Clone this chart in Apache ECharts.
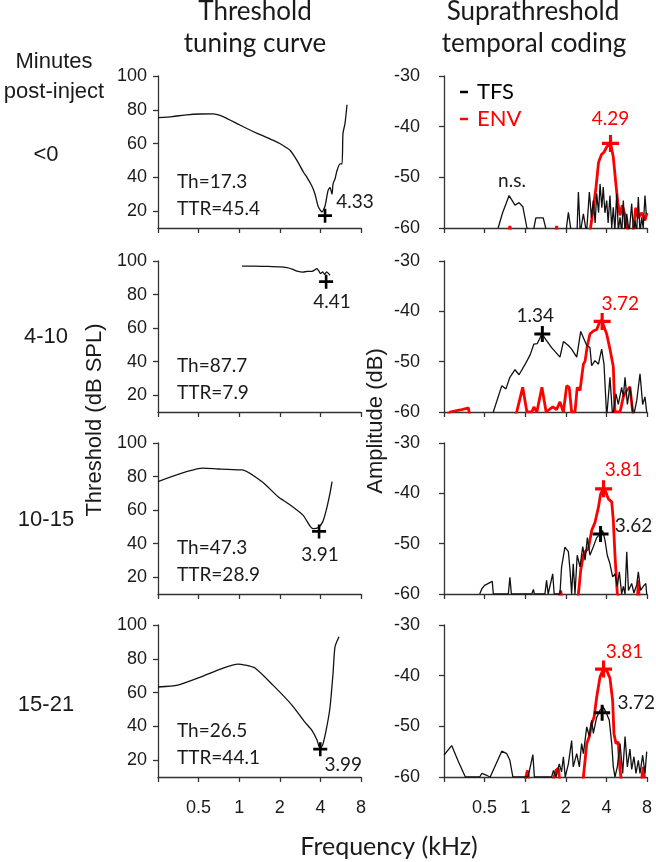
<!DOCTYPE html>
<html><head><meta charset="utf-8">
<script src="https://cdn.jsdelivr.net/npm/echarts@6/dist/echarts.min.js"></script>
<style>html,body{margin:0;padding:0;background:#fff}#c{width:656px;height:862px}</style>
</head><body><div id="c"></div><script>
// ---------- DATA ----------
const rowLabels = ['<0', '4-10', '10-15', '15-21'];
const freqTicks = [0.5, 1, 2, 4, 8];
const thrTicks = [20, 40, 60, 80, 100];
const ampTicks = [-60, -50, -40, -30];
const thValues = [17.3, 87.7, 47.3, 26.5];
const ttrValues = [45.4, 7.9, 28.9, 44.1];
const tcBestFreq = [4.33, 4.41, 3.91, 3.99];
const envPeakFreq = [4.29, 3.72, 3.81, 3.81];
const envPeakAmp = [-43.3, -42, -39.1, -38.7];
const tfsPeakFreq = [null, 1.34, 3.62, 3.72];
const tfsPeakAmp = [null, -44.5, -48.1, -47.3];

// threshold tuning curves [kHz, dB SPL]
const tc0 = [[0.25,75.3],[0.32,76],[0.41,77],[0.51,77.5],[0.64,77.6],[0.76,76],[1.01,71],[1.36,66],[1.78,62],[2.0,60],[2.38,56],[2.68,50],[3.0,43],[3.18,40],[3.45,35],[3.65,30],[3.84,23],[4.0,20.5],[4.11,19.5],[4.33,23],[4.55,32],[4.71,34],[4.88,30],[4.96,36],[5.13,39],[5.31,44],[5.59,48],[5.79,48],[5.88,66],[6.09,72],[6.3,83]];
const tc1 = [[1.05,97],[1.3,97],[1.6,96.8],[2.0,96.5],[2.26,96],[2.5,95],[2.68,94],[2.97,93.4],[3.2,93.8],[3.47,93.8],[3.65,94.8],[3.77,95.5],[3.9,94],[4.0,92.5],[4.16,93.5],[4.3,92],[4.45,93.5],[4.6,92.5],[4.71,91.5]];
const tc2 = [[0.25,77],[0.54,85],[0.7,84.5],[1.01,84],[1.05,84],[1.5,76.5],[1.94,68],[2.3,64],[2.97,57],[3.35,50.5],[3.54,49],[3.84,49.5],[4.16,53],[4.42,60],[4.71,70],[4.88,77]];
const tc3 = [[0.25,63.3],[0.35,64.4],[0.51,69],[0.76,74.5],[0.98,76.8],[1.1,76.3],[1.31,74.5],[1.78,64.4],[2.46,52.6],[3.07,42.5],[3.47,37.5],[3.77,32],[3.97,27],[4.16,29],[4.42,38],[4.71,51],[4.96,71],[5.13,87],[5.49,93]];

// suprathreshold temporal coding [kHz, dB]
const tfs0 = [[0.63,-60],[0.68,-57],[0.76,-53.6],[0.84,-55.5],[0.9,-55],[0.96,-55.8],[1.03,-60],[1.14,-61],[1.2,-58],[1.36,-58],[1.45,-61],[2.0,-61],[2.09,-56.9],[2.2,-61],[2.42,-61],[2.48,-52.9],[2.56,-61],[2.7,-57.2],[2.85,-61],[2.99,-52.9],[3.1,-58],[3.2,-54.6],[3.3,-59],[3.39,-53.2],[3.5,-57],[3.59,-51.3],[3.7,-56],[3.79,-51.9],[3.9,-57],[4.02,-54.6],[4.12,-59],[4.25,-53.6],[4.38,-60],[4.5,-55.9],[4.62,-60.5],[4.77,-53.2],[4.9,-60.5],[5.05,-57.9],[5.2,-61],[5.34,-54.6],[5.5,-61],[5.66,-57.2],[5.9,-61],[6.16,-55.2],[6.35,-61],[6.52,-58.5],[6.7,-61],[6.9,-53.9],[7.1,-61],[7.31,-57.9],[7.5,-60],[7.73,-53.6],[7.9,-57.2]];
const env0 = [[0.75,-61],[0.77,-59.6],[0.79,-61],[1.68,-61],[1.71,-59.6],[1.74,-61],[3.0,-61],[3.05,-60],[3.2,-56],[3.35,-52],[3.5,-47],[3.68,-45.5],[3.85,-45],[4.02,-44],[4.29,-43.3],[4.5,-46],[4.69,-51],[4.86,-55],[5.05,-57.5],[5.24,-55.5],[5.5,-57.5],[5.83,-61],[6.3,-61],[6.6,-56],[6.9,-58],[7.31,-57],[7.73,-58.5],[8,-57]];
const tfs1 = [[0.55,-61],[0.58,-60],[0.67,-54.8],[0.72,-55.4],[0.77,-53.1],[0.84,-51.6],[0.9,-52.6],[1.0,-50.5],[1.09,-48.6],[1.16,-46.5],[1.23,-46.4],[1.33,-44.5],[1.44,-45.8],[1.57,-47.2],[1.81,-49.1],[1.92,-46],[2.09,-46.8],[2.21,-47.5],[2.41,-49.1],[2.58,-44],[2.86,-46.8],[3.02,-47.2],[3.11,-50.8],[3.29,-49.8],[3.49,-50.5],[3.69,-47.5],[3.84,-50.5],[4.02,-61],[4.25,-53.1],[4.45,-61],[4.71,-56.4],[4.9,-58.5],[5.19,-55.1],[5.34,-57],[5.5,-53.1],[5.72,-58.5],[5.98,-55],[6.33,-61],[6.71,-57.8],[7.1,-52.4],[7.43,-58.5],[7.73,-57],[7.96,-60]];
const env1 = [[0.26,-61],[0.277,-60],[0.33,-59.6],[0.379,-59.2],[0.39,-61],[0.84,-61],[0.865,-60],[0.958,-55.1],[1.03,-60],[1.12,-60],[1.16,-59],[1.22,-60],[1.33,-55.1],[1.43,-60],[1.6,-59],[1.71,-59.5],[1.81,-58],[1.92,-60],[2.03,-54.8],[2.12,-55.1],[2.21,-60],[2.34,-60],[2.43,-55.1],[2.55,-55.7],[2.7,-50.5],[2.78,-49.9],[2.89,-46.8],[3.02,-44.5],[3.2,-43.9],[3.39,-43.6],[3.59,-41.9],[3.72,-42],[3.79,-42.2],[4.02,-44.5],[4.25,-47.5],[4.5,-51],[4.63,-60],[5.05,-60],[5.34,-57],[5.66,-55.7],[5.98,-55],[6.27,-60],[6.4,-62]];
const tfs2 = [[0.46,-60],[0.476,-59],[0.5,-58.3],[0.57,-57.5],[0.58,-60],[0.75,-60],[0.77,-56.7],[0.79,-60],[1.12,-60],[1.15,-59.1],[1.17,-60],[1.4,-60],[1.44,-57.3],[1.48,-60],[1.6,-56],[1.64,-60],[1.81,-60],[1.86,-54.7],[1.97,-50.7],[2.09,-51.6],[2.15,-55.3],[2.21,-60],[2.27,-54],[2.34,-60],[2.43,-52.3],[2.55,-54.6],[2.67,-50.6],[2.78,-53.3],[2.89,-48.8],[3.02,-52.3],[3.2,-50.6],[3.39,-48.8],[3.59,-48.1],[3.75,-47.4],[3.91,-49.4],[4.06,-52.3],[4.25,-54],[4.45,-56.6],[4.63,-56],[4.82,-58.5],[4.99,-55.6],[5.19,-60],[5.34,-58.5],[5.5,-60],[5.66,-51.6],[5.83,-59.3],[6.16,-57.9],[6.4,-59.8],[6.71,-58.2],[6.9,-55.6],[7.17,-59.3],[7.5,-58.5],[7.84,-57.9],[7.96,-60]];
const env2 = [[1.78,-61],[1.83,-59.3],[1.88,-61],[2.45,-61],[2.48,-60],[2.58,-55.3],[2.7,-52.3],[2.82,-51.4],[2.94,-51],[3.11,-47.4],[3.29,-45.8],[3.49,-42.8],[3.62,-40.2],[3.81,-38.9],[3.97,-39.8],[4.13,-41.1],[4.38,-41.7],[4.5,-45.3],[4.63,-52.3],[4.82,-60],[5.05,-61],[6.8,-61],[6.9,-57.3],[7.0,-61]];
const tfs3 = [[0.25,-55.7],[0.285,-53.8],[0.32,-57],[0.36,-60],[0.46,-60],[0.476,-59.3],[0.52,-59.7],[0.55,-60],[0.67,-54.9],[0.73,-55.4],[0.77,-56.7],[0.81,-60],[1.05,-60],[1.09,-58],[1.14,-55.6],[1.17,-60],[1.57,-60],[1.62,-58.7],[1.69,-60],[1.79,-57.4],[1.86,-59],[1.92,-56],[1.98,-60],[2.09,-57.4],[2.21,-52.8],[2.27,-58],[2.41,-55.4],[2.52,-58],[2.62,-53.4],[2.7,-55.4],[2.86,-50.1],[2.99,-52],[3.11,-48.8],[3.2,-51.4],[3.39,-48.2],[3.59,-46.8],[3.79,-46.2],[4.02,-47.5],[4.2,-48.8],[4.38,-53.4],[4.5,-58],[4.63,-60],[4.82,-58],[5.05,-53.4],[5.28,-59.3],[5.5,-52],[5.72,-58],[5.98,-54.5],[6.16,-58.5],[6.4,-56],[6.63,-59.3],[6.9,-56.7],[7.1,-59.3],[7.43,-55.7],[7.73,-59.3],[7.96,-55]];
const env3 = [[0.99,-61],[1.04,-58.7],[1.07,-61],[1.6,-61],[1.69,-58.7],[1.76,-58.3],[1.81,-61],[2.68,-61],[2.7,-60],[2.86,-53.4],[2.99,-52],[3.11,-49.5],[3.24,-48.2],[3.39,-44.2],[3.59,-40.2],[3.81,-38.6],[4.06,-39.2],[4.25,-40.5],[4.45,-44.9],[4.55,-51.4],[4.71,-53.4],[4.9,-53.1],[5.05,-58.7],[5.19,-61],[7.25,-61],[7.5,-58],[7.73,-61]];

const tuningCurves = [tc0, tc1, tc2, tc3];
const tfsCurves = [tfs0, tfs1, tfs2, tfs3];
const envCurves = [env0, env1, env2, env3];

// ---------- LAYOUT / STYLE ----------
const colLeft = [158, 444];
const plotW = 203;
const rowTops = [76, 261, 443, 625];
const rowH = [152, 151, 151, 152];
const axisColor = '#333';
const textColor = '#1a1a1a';
const RED = '#ff0000';
const ARIAL = '"Liberation Sans", Arial, sans-serif';
const CAL = 'Lato, "Open Sans", sans-serif';
const PLUS = 'path://M-1.3,-7 H1.3 V-1.3 H7 V1.3 H1.3 V7 H-1.3 V1.3 H-7 V-1.3 H-1.3 Z';
// label offsets (px) relative to marker centres
const tcLabelOff = [[30, -14], [6, 20], [1, 23], [23, 16]];
const envLabelOff = [[0, -25], [18, -18], [20, -19], [21, -17]];
const tfsLabelOff = [null, [-7, -18], [33, -8], [34, -10]];

const grids = [], xAxes = [], yAxes = [], series = [];
for (let r = 0; r < 4; r++) {
  for (let c = 0; c < 2; c++) {
    const idx = r * 2 + c;
    grids.push({ left: colLeft[c], top: rowTops[r], width: plotW, height: rowH[r] });
    xAxes.push({
      gridIndex: idx, type: 'log', logBase: 2, min: 0.25, max: 8,
      axisLine: { show: true, onZero: false, lineStyle: { color: axisColor, width: 1.3 } },
      axisTick: { show: true, length: 5, lineStyle: { color: axisColor, width: 1.3 } },
      axisLabel: {
        show: r === 3, margin: 22, fontSize: 18, fontFamily: ARIAL, color: textColor,
        formatter: v => (v < 0.4 ? '' : String(+v.toFixed(2)))
      },
      splitLine: { show: false }
    });
    if (c === 0) {
      yAxes.push({
        gridIndex: idx, type: 'value', min: 10, max: 100, interval: 10,
        axisLine: { show: true, onZero: false, lineStyle: { color: axisColor, width: 1.3 } },
        axisTick: { show: true, length: 5, customValues: thrTicks, lineStyle: { color: axisColor, width: 1.3 } },
        axisLabel: { customValues: thrTicks, margin: 11, fontSize: 18, fontFamily: ARIAL, color: textColor,
          formatter: v => (v % 20 === 0 ? String(v) : '') },
        splitLine: { show: false }
      });
    } else {
      yAxes.push({
        gridIndex: idx, type: 'value', min: -60, max: -30, interval: 10,
        axisLine: { show: true, onZero: false, lineStyle: { color: axisColor, width: 1.3 } },
        axisTick: { show: true, length: 5, lineStyle: { color: axisColor, width: 1.3 } },
        axisLabel: { margin: 24, fontSize: 18, fontFamily: ARIAL, color: textColor },
        splitLine: { show: false }
      });
    }
  }
  const L = r * 2, R = r * 2 + 1;
  // tuning curve
  series.push({ type: 'line', xAxisIndex: L, yAxisIndex: L, data: tuningCurves[r], symbol: 'none',
    smooth: 0.2, color: '#111', lineStyle: { color: '#111', width: 1.3 }, silent: true, z: 2 });
  series.push({ type: 'scatter', xAxisIndex: L, yAxisIndex: L, data: [[tcBestFreq[r], thValues[r]]],
    symbol: PLUS, symbolSize: 14, itemStyle: { color: '#000', opacity: 1 }, z: 5, silent: true,
    label: { show: true, position: 'inside', offset: tcLabelOff[r], formatter: tcBestFreq[r].toFixed(2),
      color: textColor, fontSize: 19, fontFamily: CAL, textBorderWidth: 0 } });
  // ENV then TFS
  series.push({ type: 'line', name: 'ENV', xAxisIndex: R, yAxisIndex: R, data: envCurves[r], symbol: 'none',
    color: RED, lineStyle: { color: RED, width: 2.8 }, silent: true, z: 2 });
  series.push({ type: 'line', name: 'TFS', xAxisIndex: R, yAxisIndex: R, data: tfsCurves[r], symbol: 'none',
    color: '#000', lineStyle: { color: '#111', width: 1.3 }, silent: true, z: 3 });
  series.push({ type: 'scatter', xAxisIndex: R, yAxisIndex: R, data: [[envPeakFreq[r], envPeakAmp[r]]],
    symbol: PLUS, symbolSize: 17, itemStyle: { color: RED, opacity: 1 }, z: 5, silent: true,
    label: { show: true, position: 'inside', offset: envLabelOff[r], formatter: envPeakFreq[r].toFixed(2),
      color: RED, fontSize: 19, fontFamily: CAL, textBorderWidth: 0 } });
  if (tfsPeakFreq[r] !== null) {
    series.push({ type: 'scatter', xAxisIndex: R, yAxisIndex: R, data: [[tfsPeakFreq[r], tfsPeakAmp[r]]],
      symbol: PLUS, symbolSize: 16, itemStyle: { color: '#000', opacity: 1 }, z: 6, silent: true,
      label: { show: true, position: 'inside', offset: tfsLabelOff[r], formatter: tfsPeakFreq[r].toFixed(2),
        color: textColor, fontSize: 19, fontFamily: CAL, textBorderWidth: 0 } });
  }
}

// ---------- TEXT ----------
const txt = (x, y, text, size, font, opts = {}) => Object.assign({
  type: 'text', x, y, silent: true,
  style: Object.assign({ text, fontSize: size, fontFamily: font, fill: textColor, align: 'center', verticalAlign: 'middle' }, opts.style || {})
}, opts.el || {});
const graphics = [
  txt(255, 12, 'Threshold', 26, CAL),
  txt(255, 43.5, 'tuning curve', 26, CAL),
  txt(533, 12, 'Suprathreshold', 26, CAL),
  txt(534, 43.5, 'temporal coding', 26, CAL),
  txt(54, 62, 'Minutes', 22, ARIAL),
  txt(54, 92, 'post-inject', 22, ARIAL),
  txt(95, 420, 'Threshold (dB SPL)', 22, ARIAL, { el: { rotation: Math.PI / 2 } }),
  txt(376, 421, 'Amplitude (dB)', 22, ARIAL, { el: { rotation: Math.PI / 2 } }),
  txt(389, 847, 'Frequency (kHz)', 25, CAL),
  txt(512, 181, 'n.s.', 19, CAL)
];
const rowLabelY = [155, 337, 520, 705];
const thY = [182, 366, 548, 731];
for (let r = 0; r < 4; r++) {
  graphics.push(txt(46, rowLabelY[r], rowLabels[r], 22, ARIAL));
  graphics.push(txt(177, thY[r], 'Th=' + thValues[r], 19, CAL, { style: { align: 'left' } }));
  graphics.push(txt(177, thY[r] + 27, 'TTR=' + ttrValues[r], 19, CAL, { style: { align: 'left' } }));
}

const chart = echarts.init(document.getElementById('c'), null, { renderer: 'canvas' });
chart.setOption({
  animation: false,
  backgroundColor: '#fff',
  grid: grids, xAxis: xAxes, yAxis: yAxes, series,
  legend: {
    data: [{ name: 'TFS', textStyle: { color: '#000' } }, { name: 'ENV', textStyle: { color: RED } }],
    orient: 'vertical', left: 455, top: 76, icon: 'rect', itemWidth: 8, itemHeight: 2.5, itemGap: 5,
    selectedMode: false,
    textStyle: { fontSize: 22, fontFamily: CAL, lineHeight: 22, padding: [0, 0, 0, 4] }
  },
  graphic: graphics
});
</script></body></html>
